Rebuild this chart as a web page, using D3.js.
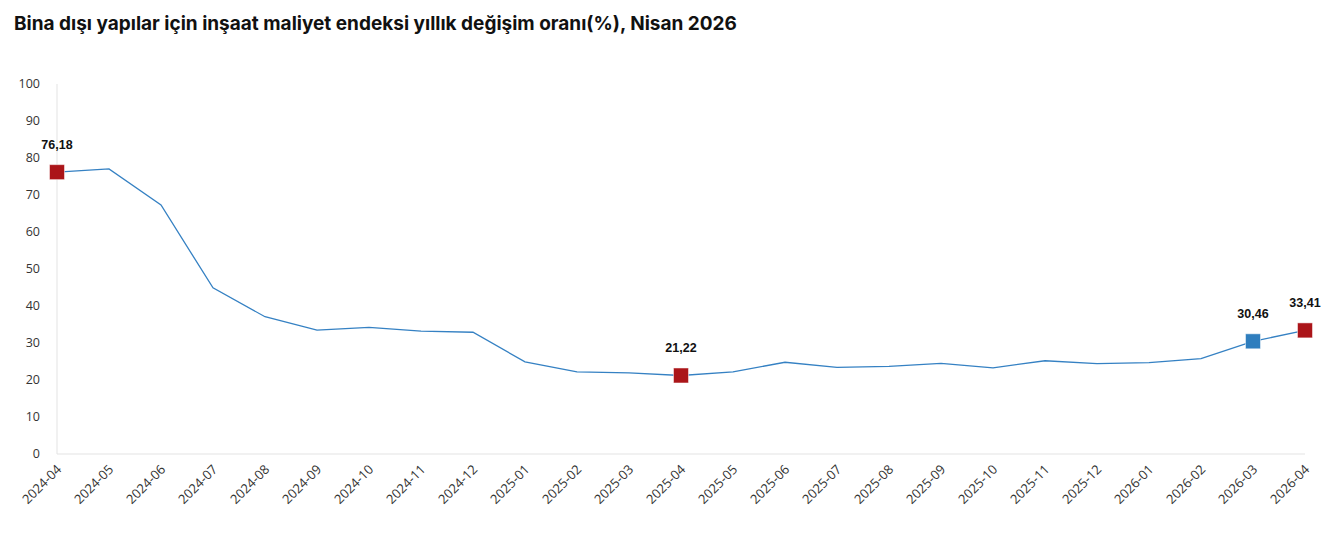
<!DOCTYPE html>
<html>
<head>
<meta charset="utf-8">
<script src="https://cdn.jsdelivr.net/npm/d3@7"></script>
<style>
  body { margin: 0; background: #fff; }
  svg { display: block; }
</style>
</head>
<body>
<svg id="chart" width="1342" height="547"></svg>
<script>
// Chart data
var months = ["2024-04","2024-05","2024-06","2024-07","2024-08","2024-09","2024-10","2024-11","2024-12",
  "2025-01","2025-02","2025-03","2025-04","2025-05","2025-06","2025-07","2025-08","2025-09","2025-10",
  "2025-11","2025-12","2026-01","2026-02","2026-03","2026-04"];
var change_values = [76.18, 77.05, 67.3, 44.9, 37.1, 33.5, 34.2, 33.2, 32.9,
  24.9, 22.2, 21.9, 21.22, 22.2, 24.8, 23.4, 23.7, 24.5, 23.3,
  25.2, 24.4, 24.7, 25.8, 30.46, 33.41];
var y_ticks = [0, 10, 20, 30, 40, 50, 60, 70, 80, 90, 100];
// highlighted points: index and marker colour key
var marked_idx = [0, 12, 23, 24];
var marked_kind = ["red", "red", "blue", "red"];

var svg = d3.select("#chart");

var line_color = "#3581c3";
var marker_colors = { red: "#ab1519", blue: "#2f7ebe" };

// Title
svg.append("text")
  .attr("x", 14)
  .attr("y", 30)
  .style("font-family", "Inter, Roboto, sans-serif")
  .style("font-weight", "bold")
  .style("font-size", "19px")
  .style("fill", "#111")
  .text("Bina dışı yapılar için inşaat maliyet endeksi yıllık değişim oranı(%), Nisan 2026");

var plot_left = 57, plot_right = 1305;
var plot_top = 84, plot_bottom = 454;

var x_scale = d3.scalePoint().domain(months).range([plot_left, plot_right]);
var y_scale = d3.scaleLinear().domain([0, 100]).range([plot_bottom, plot_top]);

// Axis lines
svg.append("line")
  .attr("x1", plot_left).attr("x2", plot_left)
  .attr("y1", plot_top).attr("y2", plot_bottom)
  .attr("stroke", "#e3e3e3").attr("stroke-width", 1);
svg.append("line")
  .attr("x1", plot_left).attr("x2", plot_right)
  .attr("y1", plot_bottom).attr("y2", plot_bottom)
  .attr("stroke", "#e3e3e3").attr("stroke-width", 1);

// Y tick labels
svg.selectAll(".y-label")
  .data(y_ticks)
  .enter()
  .append("text")
  .attr("class", "y-label")
  .attr("x", 40)
  .attr("y", function (d) { return y_scale(d); })
  .attr("dy", "0.35em")
  .attr("text-anchor", "end")
  .style("font-family", "'Open Sans', sans-serif")
  .style("font-size", "12.5px")
  .style("fill", "#333")
  .text(function (d) { return d; });

// X tick labels, rotated
svg.selectAll(".x-label")
  .data(months)
  .enter()
  .append("text")
  .attr("class", "x-label")
  .attr("transform", function (d) { return "translate(" + (x_scale(d) + 2) + "," + (plot_bottom + 13) + ") rotate(-45)"; })
  .attr("text-anchor", "end")
  .attr("dy", "0.35em")
  .style("font-family", "'Open Sans', sans-serif")
  .style("font-size", "13px")
  .style("fill", "#333")
  .text(function (d) { return d; });

// Line
var line_gen = d3.line()
  .x(function (d, i) { return x_scale(months[i]); })
  .y(function (d) { return y_scale(d); });

svg.append("path")
  .datum(change_values)
  .attr("d", line_gen)
  .attr("fill", "none")
  .attr("stroke", line_color)
  .attr("stroke-width", 1.3);

// Markers
var marker_size = 15;
svg.selectAll(".marker")
  .data(marked_idx)
  .enter()
  .append("rect")
  .attr("class", "marker")
  .attr("x", function (d) { return x_scale(months[d]) - marker_size / 2; })
  .attr("y", function (d) { return y_scale(change_values[d]) - marker_size / 2; })
  .attr("width", marker_size)
  .attr("height", marker_size)
  .attr("fill", function (d, i) { return marker_colors[marked_kind[i]]; })
  .attr("stroke", "rgba(255,255,255,0.5)")
  .attr("stroke-width", 1);

// Value labels
svg.selectAll(".value-label")
  .data(marked_idx)
  .enter()
  .append("text")
  .attr("class", "value-label")
  .attr("x", function (d) { return x_scale(months[d]); })
  .attr("y", function (d) { return y_scale(change_values[d]) - 23; })
  .attr("text-anchor", "middle")
  .style("font-family", "'Liberation Sans', Arial, sans-serif")
  .style("font-weight", "bold")
  .style("font-size", "12.5px")
  .style("fill", "#111")
  .text(function (d) { return d3.format(".2f")(change_values[d]).replace(".", ","); });
</script>
</body>
</html>
